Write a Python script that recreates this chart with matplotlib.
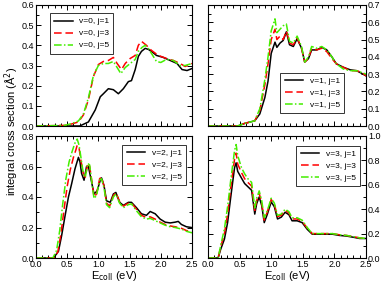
import matplotlib
matplotlib.use("Agg")
import matplotlib.pyplot as plt
from matplotlib.ticker import MultipleLocator, FormatStrFormatter

plt.rcParams['font.family'] = ['Liberation Sans', 'DejaVu Sans']

# ---- panel v=0 ----
v0_j1_x = [0.0, 0.70, 0.84, 0.95, 1.03, 1.08, 1.16, 1.24, 1.32, 1.40, 1.48, 1.53, 1.59, 1.64, 1.69, 1.75, 1.80, 1.85, 1.93, 2.04, 2.15, 2.26, 2.34, 2.42, 2.50]
v0_j1_y = [0.0, 0.0, 0.02, 0.08, 0.145, 0.16, 0.185, 0.18, 0.16, 0.185, 0.22, 0.225, 0.28, 0.345, 0.37, 0.385, 0.38, 0.37, 0.35, 0.34, 0.325, 0.31, 0.28, 0.275, 0.285]
v0_j3_x = [0.0, 0.46, 0.57, 0.68, 0.76, 0.84, 0.92, 1.00, 1.08, 1.16, 1.24, 1.30, 1.37, 1.43, 1.51, 1.59, 1.64, 1.69, 1.77, 1.85, 1.96, 2.09, 2.20, 2.31, 2.39, 2.50]
v0_j3_y = [0.0, 0.003, 0.01, 0.02, 0.055, 0.13, 0.245, 0.305, 0.32, 0.325, 0.34, 0.31, 0.28, 0.31, 0.335, 0.35, 0.40, 0.42, 0.40, 0.375, 0.35, 0.335, 0.325, 0.31, 0.295, 0.31]
v0_j5_x = [0.0, 0.46, 0.57, 0.68, 0.76, 0.84, 0.92, 1.00, 1.08, 1.16, 1.24, 1.30, 1.36, 1.43, 1.51, 1.59, 1.64, 1.70, 1.75, 1.80, 1.87, 1.93, 2.00, 2.09, 2.20, 2.31, 2.39, 2.50]
v0_j5_y = [0.0, 0.003, 0.012, 0.025, 0.06, 0.14, 0.25, 0.30, 0.31, 0.31, 0.32, 0.29, 0.26, 0.29, 0.31, 0.33, 0.37, 0.39, 0.40, 0.385, 0.35, 0.32, 0.315, 0.33, 0.325, 0.30, 0.30, 0.31]

# ---- panel v=1 ----
v1_x = [0.0, 0.47, 0.58, 0.74, 0.82, 0.90, 0.95, 1.00, 1.06, 1.09, 1.14, 1.19, 1.24, 1.29, 1.35, 1.41, 1.48, 1.53, 1.59, 1.64, 1.72, 1.80, 1.88, 1.96, 2.03, 2.14, 2.25, 2.35, 2.43, 2.50]
v1_j1_y = [0.0, 0.0, 0.015, 0.03, 0.07, 0.165, 0.26, 0.42, 0.485, 0.455, 0.48, 0.495, 0.545, 0.47, 0.46, 0.505, 0.45, 0.37, 0.39, 0.44, 0.44, 0.455, 0.44, 0.40, 0.36, 0.34, 0.325, 0.32, 0.305, 0.29]
v1_j3_y = [0.0, 0.0, 0.015, 0.03, 0.09, 0.24, 0.36, 0.50, 0.56, 0.50, 0.52, 0.50, 0.55, 0.48, 0.47, 0.51, 0.45, 0.37, 0.39, 0.45, 0.44, 0.45, 0.43, 0.39, 0.36, 0.34, 0.32, 0.32, 0.31, 0.29]
v1_j5_y = [0.0, 0.0, 0.015, 0.03, 0.10, 0.27, 0.40, 0.55, 0.62, 0.54, 0.56, 0.58, 0.59, 0.49, 0.48, 0.52, 0.46, 0.37, 0.40, 0.46, 0.45, 0.46, 0.44, 0.40, 0.36, 0.33, 0.32, 0.32, 0.31, 0.30]

# ---- panel v=2 ----
v2_j1_x = [0.0, 0.28, 0.36, 0.41, 0.465, 0.52, 0.57, 0.625, 0.68, 0.705, 0.73, 0.77, 0.81, 0.84, 0.89, 0.93, 0.98, 1.03, 1.05, 1.09, 1.13, 1.19, 1.24, 1.28, 1.34, 1.40, 1.48, 1.53, 1.61, 1.69, 1.77, 1.83, 1.91, 1.99, 2.07, 2.15, 2.23, 2.28, 2.33, 2.41, 2.49]
v2_j1_y = [0.0, 0.0, 0.044, 0.145, 0.275, 0.40, 0.485, 0.585, 0.66, 0.63, 0.555, 0.51, 0.60, 0.60, 0.50, 0.42, 0.44, 0.51, 0.525, 0.475, 0.375, 0.365, 0.42, 0.43, 0.365, 0.345, 0.365, 0.365, 0.33, 0.29, 0.28, 0.305, 0.29, 0.255, 0.235, 0.23, 0.235, 0.24, 0.22, 0.205, 0.20]
v2_j3_x = [0.0, 0.29, 0.35, 0.40, 0.45, 0.50, 0.55, 0.60, 0.64, 0.66, 0.69, 0.72, 0.76, 0.79, 0.83, 0.86, 0.90, 0.93, 0.97, 1.02, 1.05, 1.09, 1.13, 1.18, 1.24, 1.28, 1.34, 1.40, 1.48, 1.53, 1.61, 1.69, 1.77, 1.83, 1.91, 1.99, 2.07, 2.15, 2.23, 2.33, 2.41, 2.50]
v2_j3_y = [0.0, 0.0, 0.04, 0.16, 0.32, 0.47, 0.58, 0.66, 0.71, 0.74, 0.72, 0.64, 0.55, 0.53, 0.62, 0.60, 0.49, 0.40, 0.42, 0.52, 0.53, 0.47, 0.36, 0.34, 0.41, 0.43, 0.37, 0.34, 0.36, 0.36, 0.32, 0.28, 0.265, 0.27, 0.255, 0.235, 0.22, 0.21, 0.205, 0.195, 0.18, 0.17]
v2_j5_x = [0.0, 0.27, 0.33, 0.38, 0.43, 0.48, 0.53, 0.58, 0.62, 0.66, 0.69, 0.72, 0.76, 0.79, 0.83, 0.86, 0.90, 0.93, 0.97, 1.02, 1.05, 1.09, 1.13, 1.18, 1.24, 1.28, 1.34, 1.40, 1.48, 1.53, 1.61, 1.69, 1.77, 1.83, 1.91, 1.99, 2.07, 2.15, 2.23, 2.33, 2.41, 2.50]
v2_j5_y = [0.0, 0.0, 0.05, 0.18, 0.36, 0.52, 0.63, 0.70, 0.75, 0.78, 0.74, 0.66, 0.55, 0.53, 0.62, 0.61, 0.48, 0.39, 0.41, 0.51, 0.52, 0.46, 0.35, 0.33, 0.40, 0.42, 0.36, 0.33, 0.35, 0.355, 0.31, 0.27, 0.255, 0.26, 0.245, 0.23, 0.215, 0.205, 0.20, 0.19, 0.175, 0.165]

# ---- panel v=3 ----
v3_x = [0.0, 0.16, 0.20, 0.26, 0.31, 0.36, 0.42, 0.445, 0.47, 0.53, 0.58, 0.63, 0.69, 0.74, 0.77, 0.81, 0.85, 0.89, 0.94, 1.00, 1.05, 1.10, 1.16, 1.22, 1.28, 1.33, 1.41, 1.49, 1.57, 1.65, 1.76, 1.87, 1.97, 2.08, 2.19, 2.30, 2.40, 2.50]
v3_j1_y = [0.0, 0.0, 0.07, 0.155, 0.29, 0.50, 0.74, 0.78, 0.71, 0.655, 0.61, 0.585, 0.555, 0.36, 0.445, 0.50, 0.43, 0.29, 0.36, 0.46, 0.42, 0.32, 0.335, 0.375, 0.355, 0.305, 0.305, 0.29, 0.235, 0.195, 0.195, 0.195, 0.195, 0.185, 0.18, 0.17, 0.16, 0.16]
v3_j3_y = [0.0, 0.0, 0.09, 0.20, 0.36, 0.58, 0.81, 0.86, 0.77, 0.70, 0.65, 0.62, 0.59, 0.39, 0.47, 0.53, 0.45, 0.31, 0.38, 0.48, 0.44, 0.34, 0.35, 0.39, 0.37, 0.32, 0.32, 0.30, 0.245, 0.20, 0.20, 0.20, 0.20, 0.19, 0.185, 0.175, 0.165, 0.16]
v3_j5_y = [0.0, 0.0, 0.10, 0.24, 0.42, 0.64, 0.88, 0.93, 0.84, 0.74, 0.69, 0.65, 0.62, 0.41, 0.49, 0.55, 0.47, 0.33, 0.39, 0.49, 0.45, 0.35, 0.36, 0.40, 0.38, 0.33, 0.33, 0.31, 0.25, 0.20, 0.20, 0.20, 0.20, 0.19, 0.185, 0.175, 0.165, 0.16]

W, H = 383, 286
fig = plt.figure(figsize=(W / 100, H / 100), dpi=100)

def rect(l, t, r, b):
    return [l / W, 1 - b / H, (r - l) / W, (b - t) / H]

ax_tl = fig.add_axes(rect(36, 5, 192, 126))
ax_tr = fig.add_axes(rect(208, 5, 366, 126))
ax_bl = fig.add_axes(rect(36, 136, 192, 258))
ax_br = fig.add_axes(rect(208, 136, 366, 258))

styles = [dict(color='black', ls='-'),
          dict(color='#ff0000', ls=(0, (5, 2.5))),
          dict(color='#44ee00', ls=(0, (5, 1.5, 1, 1.5)))]

panels = [
    (ax_tl, 0, [(v0_j1_x, v0_j1_y), (v0_j3_x, v0_j3_y), (v0_j5_x, v0_j5_y)], 0.6, 0.1, 0.05, False, 'left'),
    (ax_tr, 1, [(v1_x, v1_j1_y), (v1_x, v1_j3_y), (v1_x, v1_j5_y)], 0.7, 0.1, 0.05, False, 'right'),
    (ax_bl, 2, [(v2_j1_x, v2_j1_y), (v2_j3_x, v2_j3_y), (v2_j5_x, v2_j5_y)], 0.8, 0.2, 0.1, True, 'left'),
    (ax_br, 3, [(v3_x, v3_j1_y), (v3_x, v3_j3_y), (v3_x, v3_j5_y)], 1.0, 0.2, 0.1, True, 'right'),
]
js = [1, 3, 5]
legend_pos = {0: dict(loc='upper left', bbox_to_anchor=(0.09, 0.93)),
              1: dict(loc='lower right', bbox_to_anchor=(0.86, 0.11)),
              2: dict(loc='upper right', bbox_to_anchor=(0.96, 0.93)),
              3: dict(loc='upper right', bbox_to_anchor=(0.96, 0.92))}

for ax, v, series, ymax, ymaj, ymin, xlab, side in panels:
    for (x, y), st, j in zip(series, styles, js):
        ax.plot(x, y, lw=1.1, label=f'v={v}, j={j}', **st)
    ax.set_xlim(0, 2.5)
    ax.set_ylim(0, ymax)
    ax.xaxis.set_major_locator(MultipleLocator(0.5))
    ax.xaxis.set_minor_locator(MultipleLocator(0.1))
    ax.yaxis.set_major_locator(MultipleLocator(ymaj))
    ax.yaxis.set_minor_locator(MultipleLocator(ymin))
    ax.tick_params(which='both', direction='in', top=True, right=True, left=True, bottom=True,
                   labelsize=6.5, width=0.7, pad=1.5)
    ax.tick_params(which='major', length=3.5)
    ax.tick_params(which='minor', length=2)
    ax.yaxis.set_major_formatter(FormatStrFormatter('%.1f'))
    ax.xaxis.set_major_formatter(FormatStrFormatter('%.1f'))
    if side == 'right':
        ax.tick_params(labelleft=False, labelright=True)
    if not xlab:
        ax.tick_params(labelbottom=False)
    else:
        ax.set_xlabel('E$_{\\mathrm{coll}}$ (eV)', fontsize=8, labelpad=0)
    for s in ax.spines.values():
        s.set_linewidth(0.8)
    leg = ax.legend(fontsize=6, frameon=True, fancybox=False, handlelength=2.2,
                    borderpad=0.5, labelspacing=0.5, handletextpad=0.8, borderaxespad=0,
                    **legend_pos[v])
    leg.get_frame().set_edgecolor('black')
    leg.get_frame().set_linewidth(0.7)

fig.text(0.03, (1 - 131 / H), 'integral cross section (Å$^2$)', rotation=90,
         fontsize=8, ha='center', va='center')

fig.savefig('out.png', dpi=100)
